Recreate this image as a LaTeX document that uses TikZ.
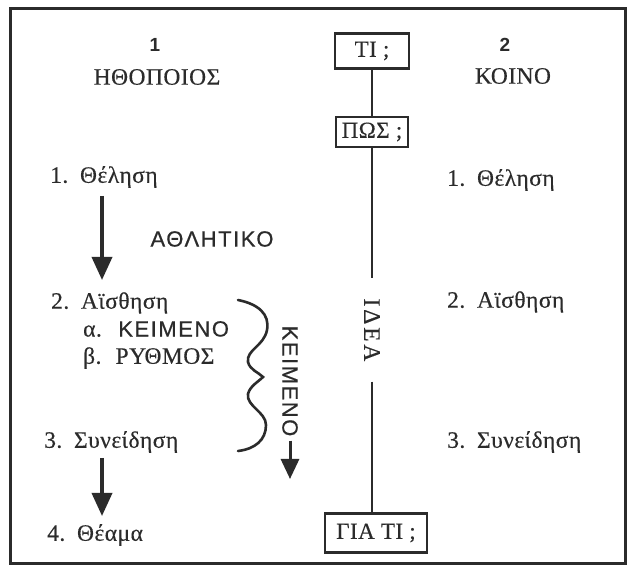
\documentclass[tikz,border=0pt]{standalone}
\usepackage{fontspec}
\setmainfont{Liberation Serif}
\newfontfamily\grserif[LetterSpace=2,FakeBold=0.3]{Liberation Serif}
\newfontfamily\grsans[LetterSpace=7,FakeBold=0.6]{Liberation Sans}
\newfontfamily\grsanswide[LetterSpace=12,FakeBold=0.3]{Liberation Serif}
\newfontfamily\numsans{Liberation Sans}
\usetikzlibrary{arrows.meta}
\definecolor{ink}{HTML}{2B2B2B}
\tikzset{
  lbl/.style={inner sep=0pt, text=ink, font=\grserif\fontsize{23.5}{26}\selectfont},
  slbl/.style={inner sep=0pt, text=ink, font=\grsans\fontsize{22}{25}\selectfont},
  numlbl/.style={inner sep=0pt, text=ink, font=\numsans\bfseries\fontsize{19}{21}\selectfont},
  qbox/.style={draw=ink, line width=2.2pt, inner xsep=4pt, inner ysep=6pt, text=ink, font=\grserif\fontsize{23}{26}\selectfont},
  stem/.style={draw=ink, line width=2.2pt},
  bigarrow/.style={draw=ink, line width=3.5pt, -{Triangle[width=20pt,length=23pt]}},
  brace/.style={draw=ink, line width=2.6pt, line cap=round}
}
\begin{document}
\begin{tikzpicture}[x=1pt,y=-1pt]
\useasboundingbox (0,0) rectangle (630,569);
\fill[white] (0,0) rectangle (630,569);
\draw[ink, line width=3pt] (10,9) rectangle (625,564);
% headers
\node[numlbl] (n1) at (155,45) {1};
\node[lbl] (hthopoios) at (157,77) {ΗΘΟΠΟΙΟΣ};
\node[numlbl] (n2) at (505,45) {2};
\node[lbl] (koino) at (513,76) {ΚΟΙΝΟ};
% central column
\node[qbox, minimum width=74pt, minimum height=35pt] (ti) at (372,51) {ΤΙ ;};
\node[qbox, minimum width=72pt, minimum height=30pt] (pos) at (372,132) {ΠΩΣ ;};
\node[inner xsep=20pt, inner ysep=4pt, rotate=-90, text=ink, font=\grsanswide\fontsize{23.5}{26}\selectfont] (idea) at (372,330) {ΙΔΕΑ};
\node[qbox, minimum width=102pt, minimum height=39pt] (giati) at (376,533) {ΓΙΑ ΤΙ ;};
\draw[stem] (ti) -- (pos);
\draw[stem] (pos) -- (idea);
\draw[stem] (idea) -- (idea |- giati.north);
% left column
\node[lbl, anchor=west] (thel1) at (50,177) {1.\hspace{0.5em}Θέληση};
\node[slbl] (athl) at (212,239) {ΑΘΛΗΤΙΚΟ};
\node[lbl, anchor=west] (aist1) at (51,303) {2.\hspace{0.5em}Αϊσθηση};
\node[anchor=west, inner sep=0pt, text=ink] (alpha) at (83,329) {\grserif\fontsize{23.5}{26}\selectfont α.\hspace{0.7em}\grsans\fontsize{22}{25}\selectfont ΚΕΙΜΕΝΟ};
\node[lbl, anchor=west] (beta) at (83,358) {β.\hspace{0.6em}ΡΥΘΜΟΣ};
\node[lbl, anchor=west] (syn1) at (44,442) {3.\hspace{0.5em}Συνείδηση};
\node[lbl, anchor=west] (theama) at (47,535) {4.\hspace{0.5em}Θέαμα};
\coordinate (a1s) at (102,196);
\coordinate (a1e) at (102,280);
\draw[bigarrow] (a1s) -- (a1e);
\coordinate (a2s) at (102,458);
\coordinate (a2e) at (102,516);
\draw[bigarrow] (a2s) -- (a2e);
% brace
\draw[brace] (238,300) .. controls (258,304) and (270,314) .. (267,330)
  .. controls (264,346) and (246,350) .. (248,362)
  .. controls (250,370) and (258,372) .. (263,377)
  .. controls (258,382) and (250,386) .. (248,394)
  .. controls (246,406) and (266,412) .. (266,425)
  .. controls (266,440) and (255,449) .. (238,451);
% rotated text with arrow
\node[slbl, rotate=-90, inner xsep=4pt] (keimR) at (290,381) {ΚΕΙΜΕΝΟ};
\coordinate (kre) at (290,479);
\draw[bigarrow, line width=3pt, -{Triangle[width=18pt,length=20pt]}] (keimR) -- (kre);
% right column
\node[lbl, anchor=west] (thel2) at (447,180) {1.\hspace{0.5em}Θέληση};
\node[lbl, anchor=west] (aist2) at (447,302) {2.\hspace{0.5em}Αϊσθηση};
\node[lbl, anchor=west] (syn2) at (447,442) {3.\hspace{0.5em}Συνείδηση};
\end{tikzpicture}
\end{document}
